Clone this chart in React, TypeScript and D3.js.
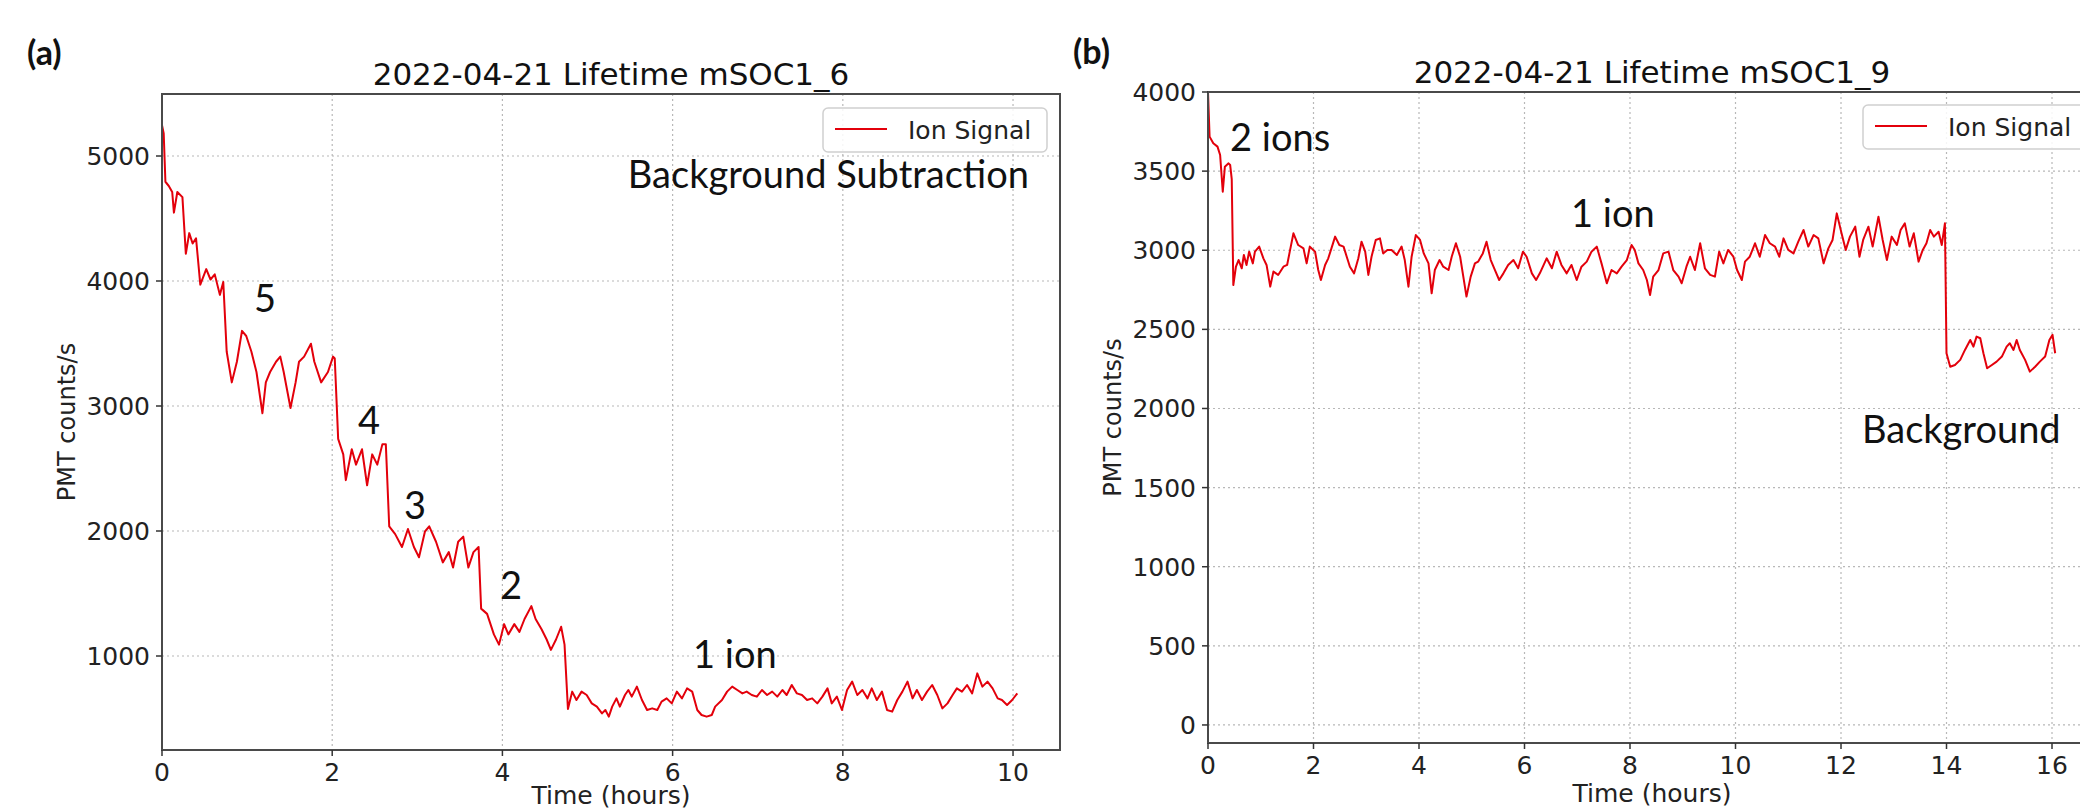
import React from "react";
import * as d3 from "d3";

// ---------- Panel (a) data: time (hours), PMT counts/s ----------
const seriesA: [number, number][] = [
  [0.0, 5247], [0.02, 5180], [0.04, 4794], [0.08, 4760], [0.12, 4712], [0.14, 4547], [0.18, 4712],
  [0.24, 4671], [0.28, 4218], [0.32, 4383], [0.36, 4300], [0.4, 4342], [0.45, 3971], [0.52, 4095],
  [0.57, 4012], [0.62, 4053], [0.68, 3889], [0.72, 3992], [0.76, 3436], [0.82, 3189], [0.88, 3354],
  [0.94, 3601], [0.99, 3560], [1.05, 3436], [1.11, 3272], [1.18, 2942], [1.22, 3189], [1.27, 3272],
  [1.34, 3354], [1.39, 3395], [1.43, 3272], [1.51, 2984], [1.57, 3189], [1.61, 3354], [1.67, 3395],
  [1.75, 3498], [1.79, 3354], [1.87, 3189], [1.95, 3272], [2.01, 3395], [2.03, 3380], [2.07, 2737],
  [2.13, 2613], [2.16, 2407], [2.23, 2654], [2.28, 2531], [2.35, 2654], [2.41, 2366], [2.47, 2613],
  [2.53, 2531], [2.59, 2695], [2.63, 2695], [2.67, 2037], [2.74, 1975], [2.82, 1872], [2.89, 2016],
  [2.96, 1872], [3.02, 1790], [3.09, 1996], [3.14, 2037], [3.22, 1914], [3.3, 1749], [3.37, 1831],
  [3.42, 1708], [3.48, 1914], [3.54, 1955], [3.6, 1708], [3.66, 1831], [3.72, 1872], [3.75, 1379],
  [3.82, 1337], [3.9, 1173], [3.96, 1091], [4.02, 1255], [4.07, 1173], [4.14, 1255], [4.2, 1193],
  [4.26, 1296], [4.34, 1399], [4.39, 1296], [4.46, 1214], [4.52, 1132], [4.57, 1049], [4.63, 1132],
  [4.69, 1234], [4.73, 1091], [4.77, 576], [4.82, 715], [4.87, 648], [4.93, 715], [4.99, 688],
  [5.05, 621], [5.11, 595], [5.17, 541], [5.21, 568], [5.25, 515], [5.29, 595], [5.34, 661],
  [5.38, 595], [5.44, 688], [5.48, 728], [5.52, 675], [5.58, 755], [5.64, 648], [5.7, 568],
  [5.76, 581], [5.82, 568], [5.87, 635], [5.93, 661], [5.99, 621], [6.05, 715], [6.11, 661],
  [6.17, 741], [6.23, 715], [6.29, 568], [6.34, 528], [6.4, 515], [6.46, 528], [6.5, 595],
  [6.58, 648], [6.64, 715], [6.7, 755], [6.76, 728], [6.82, 701], [6.87, 715], [6.93, 688],
  [6.99, 675], [7.05, 728], [7.11, 688], [7.17, 715], [7.23, 675], [7.29, 728], [7.34, 688],
  [7.4, 768], [7.46, 701], [7.52, 688], [7.58, 648], [7.64, 661], [7.7, 621], [7.76, 675],
  [7.82, 741], [7.87, 621], [7.93, 675], [7.99, 568], [8.05, 728], [8.11, 795], [8.17, 688],
  [8.23, 728], [8.29, 661], [8.34, 741], [8.4, 648], [8.46, 715], [8.52, 568], [8.58, 555],
  [8.64, 648], [8.7, 715], [8.76, 795], [8.82, 661], [8.87, 728], [8.93, 648], [8.99, 715],
  [9.05, 768], [9.11, 688], [9.17, 581], [9.23, 621], [9.29, 688], [9.34, 741], [9.4, 715],
  [9.46, 768], [9.52, 701], [9.58, 861], [9.64, 755], [9.7, 795], [9.76, 741], [9.82, 661],
  [9.87, 648], [9.93, 608], [9.99, 648], [10.05, 701],
];

// ---------- Panel (b) data ----------
const seriesB: [number, number][] = [
  [0.0, 4000], [0.03, 3718], [0.1, 3676], [0.18, 3655], [0.23, 3602], [0.28, 3370], [0.32, 3528],
  [0.39, 3549], [0.42, 3539], [0.45, 3450], [0.48, 2780], [0.53, 2896], [0.58, 2938], [0.64, 2886],
  [0.68, 2970], [0.73, 2907], [0.78, 2991], [0.85, 2917], [0.89, 2991], [0.97, 3023], [1.05, 2949],
  [1.11, 2907], [1.18, 2770], [1.24, 2865], [1.33, 2844], [1.43, 2896], [1.5, 2907], [1.55, 2991],
  [1.62, 3107], [1.71, 3033], [1.81, 3012], [1.87, 2917], [1.93, 3023], [2.03, 2991], [2.09, 2875],
  [2.14, 2812], [2.22, 2907], [2.28, 2949], [2.34, 3012], [2.41, 3086], [2.49, 3033], [2.57, 3023],
  [2.63, 2959], [2.69, 2896], [2.77, 2854], [2.85, 2949], [2.91, 3054], [2.98, 2991], [3.04, 2844],
  [3.1, 2959], [3.18, 3065], [3.26, 3075], [3.32, 2980], [3.4, 3002], [3.48, 3002], [3.58, 2970],
  [3.67, 3023], [3.73, 2938], [3.8, 2770], [3.86, 2959], [3.94, 3096], [4.02, 3065], [4.09, 2980],
  [4.18, 2917], [4.24, 2728], [4.3, 2875], [4.39, 2938], [4.46, 2896], [4.56, 2875], [4.62, 2959],
  [4.7, 3044], [4.78, 2959], [4.84, 2833], [4.9, 2707], [4.98, 2833], [5.06, 2917], [5.12, 2928],
  [5.21, 2980], [5.28, 3054], [5.36, 2938], [5.44, 2875], [5.52, 2812], [5.6, 2854], [5.69, 2907],
  [5.79, 2938], [5.88, 2886], [5.97, 2991], [6.04, 2959], [6.14, 2854], [6.22, 2812], [6.29, 2854],
  [6.42, 2949], [6.52, 2886], [6.61, 2991], [6.7, 2907], [6.8, 2854], [6.89, 2907], [6.99, 2812],
  [7.08, 2896], [7.18, 2928], [7.27, 2991], [7.37, 3023], [7.46, 2917], [7.56, 2791], [7.65, 2875],
  [7.75, 2854], [7.84, 2896], [7.94, 2938], [8.03, 3033], [8.09, 3002], [8.16, 2917], [8.25, 2875],
  [8.32, 2812], [8.38, 2717], [8.44, 2833], [8.54, 2875], [8.63, 2980], [8.73, 2991], [8.82, 2875],
  [8.92, 2833], [8.98, 2791], [9.07, 2896], [9.14, 2959], [9.23, 2875], [9.33, 3044], [9.42, 2886],
  [9.52, 2844], [9.61, 2833], [9.69, 2991], [9.77, 2917], [9.86, 3002], [9.96, 2959], [10.03, 2875],
  [10.12, 2812], [10.18, 2928], [10.27, 2959], [10.37, 3044], [10.46, 2959], [10.56, 3096],
  [10.65, 3044], [10.75, 3023], [10.83, 2959], [10.91, 3075], [11.0, 3002], [11.1, 2980],
  [11.19, 3054], [11.29, 3128], [11.38, 3023], [11.48, 3096], [11.57, 3075], [11.67, 2917],
  [11.76, 3012], [11.84, 3065], [11.92, 3233], [12.01, 3107], [12.09, 3002], [12.17, 3086],
  [12.27, 3149], [12.35, 2959], [12.42, 3065], [12.52, 3149], [12.6, 3023], [12.71, 3212],
  [12.79, 3065], [12.87, 2938], [12.96, 3086], [13.06, 3033], [13.13, 3128], [13.21, 3170],
  [13.3, 3023], [13.38, 3107], [13.47, 2928], [13.55, 3002], [13.62, 3044], [13.69, 3128],
  [13.76, 3086], [13.85, 3117], [13.91, 3033], [13.97, 3170], [14.0, 2349], [14.07, 2264],
  [14.16, 2275], [14.26, 2307], [14.35, 2370], [14.45, 2433], [14.51, 2391], [14.57, 2454],
  [14.64, 2444], [14.7, 2349], [14.77, 2254], [14.86, 2275], [14.95, 2296], [15.05, 2328],
  [15.14, 2391], [15.2, 2412], [15.27, 2370], [15.33, 2433], [15.39, 2370], [15.49, 2307],
  [15.58, 2233], [15.68, 2264], [15.77, 2296], [15.87, 2328], [15.95, 2433], [16.01, 2465],
  [16.06, 2349],
];

const ticksAX = [0, 2, 4, 6, 8, 10];
const ticksAY = [1000, 2000, 3000, 4000, 5000];
const ticksBX = [0, 2, 4, 6, 8, 10, 12, 14, 16];
const ticksBY = [0, 500, 1000, 1500, 2000, 2500, 3000, 3500, 4000];

const titleA = "2022-04-21 Lifetime mSOC1_6";
const titleB = "2022-04-21 Lifetime mSOC1_9";
const legendLabel = "Ion Signal";
const xLabel = "Time (hours)";
const yLabel = "PMT counts/s";

type Note = { text: string; x: number; y: number; anchor?: string };

const ANNOT_FONT = "Lato, 'Open Sans', sans-serif";
const AX_FONT = "'DejaVu Sans', sans-serif";

function Panel(props: {
  id: string;
  data: [number, number][];
  left: number; right: number; top: number; bottom: number;
  xDomain: [number, number]; yDomain: [number, number];
  xTicks: number[]; yTicks: number[];
  title: string; titleY: number;
  ylabelX: number; xlabelY: number;
  legend: { x: number; y: number; w: number; h: number };
  notes: Note[]; noteSize: number;
}) {
  const p = props;
  const x = d3.scaleLinear().domain(p.xDomain).range([p.left, p.right]);
  const y = d3.scaleLinear().domain(p.yDomain).range([p.bottom, p.top]);
  const line = d3.line<[number, number]>().x((d) => x(d[0])).y((d) => y(d[1]));
  const cx = (p.left + p.right) / 2;
  const cy = (p.top + p.bottom) / 2;
  return (
    <g>
      <defs>
        <clipPath id={"clip" + p.id}>
          <rect x={p.left} y={p.top} width={p.right - p.left} height={p.bottom - p.top} />
        </clipPath>
      </defs>
      {p.xTicks.map((t) => (
        <line key={"gx" + t} x1={x(t)} x2={x(t)} y1={p.top} y2={p.bottom}
          stroke="#b8b8b8" strokeWidth={1.2} strokeDasharray="2,3" />
      ))}
      {p.yTicks.map((t) => (
        <line key={"gy" + t} x1={p.left} x2={p.right} y1={y(t)} y2={y(t)}
          stroke="#b8b8b8" strokeWidth={1.2} strokeDasharray="2,3" />
      ))}
      <path d={line(p.data) || ""} fill="none" stroke="#e3000b" strokeWidth={2}
        strokeLinejoin="round" clipPath={`url(#clip${p.id})`} />
      <rect x={p.left} y={p.top} width={p.right - p.left} height={p.bottom - p.top}
        fill="none" stroke="#4a4a4a" strokeWidth={2} />
      {p.xTicks.map((t) => (
        <g key={"tx" + t}>
          <line x1={x(t)} x2={x(t)} y1={p.bottom} y2={p.bottom + 6} stroke="#333" strokeWidth={1.5} />
          <text x={x(t)} y={p.bottom + 31} textAnchor="middle" fontFamily={AX_FONT}
            fontSize={25} fill="#222">{t}</text>
        </g>
      ))}
      {p.yTicks.map((t) => (
        <g key={"ty" + t}>
          <line x1={p.left - 6} x2={p.left} y1={y(t)} y2={y(t)} stroke="#333" strokeWidth={1.5} />
          <text x={p.left - 12} y={y(t)} dy="0.36em" textAnchor="end" fontFamily={AX_FONT}
            fontSize={25} fill="#222">{t}</text>
        </g>
      ))}
      <text x={cx} y={p.titleY} textAnchor="middle" fontFamily={AX_FONT} fontSize={31} fill="#111">
        {p.title}
      </text>
      <text transform={`translate(${p.ylabelX},${cy}) rotate(-90)`} textAnchor="middle"
        dy="0.36em" fontFamily={AX_FONT} fontSize={24} fill="#222">{yLabel}</text>
      <text x={cx} y={p.xlabelY} textAnchor="middle" fontFamily={AX_FONT} fontSize={25} fill="#222">
        {xLabel}
      </text>
      <rect x={p.legend.x} y={p.legend.y} width={p.legend.w} height={p.legend.h} rx={5}
        fill="#ffffff" fillOpacity={0.85} stroke="#d0d0d0" strokeWidth={1.5} />
      <line x1={p.legend.x + 12} x2={p.legend.x + 64} y1={p.legend.y + p.legend.h / 2 - 1}
        y2={p.legend.y + p.legend.h / 2 - 1} stroke="#e3000b" strokeWidth={2} />
      <text x={p.legend.x + 85} y={p.legend.y + p.legend.h / 2} dy="0.36em" fontFamily={AX_FONT}
        fontSize={25} fill="#222">{legendLabel}</text>
      {p.notes.map((n, i) => (
        <text key={"n" + i} x={n.x} y={n.y} textAnchor={n.anchor || "start"} fontFamily={ANNOT_FONT}
          fontSize={p.noteSize} fill="#111">{n.text}</text>
      ))}
    </g>
  );
}

const notesA: Note[] = [
  { text: "Background Subtraction", x: 1029, y: 188, anchor: "end" },
  { text: "5", x: 265, y: 312, anchor: "middle" },
  { text: "4", x: 369, y: 434, anchor: "middle" },
  { text: "3", x: 415, y: 519, anchor: "middle" },
  { text: "2", x: 511, y: 599, anchor: "middle" },
  { text: "1 ion", x: 693, y: 668 },
];
const notesB: Note[] = [
  { text: "2 ions", x: 1230, y: 151 },
  { text: "1 ion", x: 1571, y: 227 },
  { text: "Background", x: 1862, y: 443 },
];

export default function App() {
  return (
    <svg width={2080} height={810} style={{ position: "absolute", left: 0, top: 0, background: "#fff" }}>
      <rect x={0} y={0} width={2080} height={810} fill="#fff" />
      <Panel id="A" data={seriesA} left={162} right={1060} top={94} bottom={750}
        xDomain={[0, 10.552]} yDomain={[248, 5496]} xTicks={ticksAX} yTicks={ticksAY}
        title={titleA} titleY={85} ylabelX={66} xlabelY={804}
        legend={{ x: 823, y: 108, w: 224, h: 44 }} notes={notesA} noteSize={38} />
      <Panel id="B" data={seriesB} left={1208} right={2096} top={92} bottom={743}
        xDomain={[0, 16.834]} yDomain={[-114, 4000]} xTicks={ticksBX} yTicks={ticksBY}
        title={titleB} titleY={83} ylabelX={1112} xlabelY={802}
        legend={{ x: 1863, y: 105, w: 260, h: 44 }} notes={notesB} noteSize={38} />
      <text x={27} y={65} fontFamily={ANNOT_FONT} fontWeight="bold" fontSize={34} fill="#111">(a)</text>
      <text x={1073} y={64} fontFamily={ANNOT_FONT} fontWeight="bold" fontSize={34} fill="#111">(b)</text>
    </svg>
  );
}
